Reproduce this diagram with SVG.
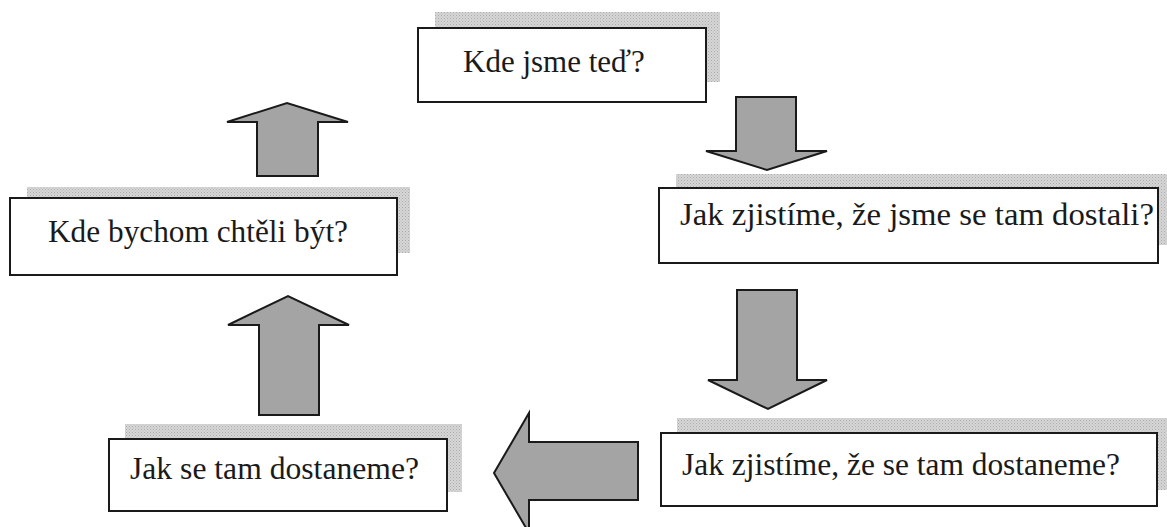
<svg xmlns="http://www.w3.org/2000/svg" width="1167" height="527" viewBox="0 0 1167 527">
<defs>
<pattern id="dots" width="3" height="3" patternUnits="userSpaceOnUse">
<rect width="3" height="3" fill="#d6d6d6"/>
<rect width="1" height="1" fill="#acacac"/>
<rect x="1.5" y="1.5" width="1" height="1" fill="#b8b8b8"/>
</pattern>
<style>
.shadow{fill:url(#dots);stroke:none}
.box{fill:#ffffff;stroke:#1a1a1a;stroke-width:2}
.lbl{font-family:'Liberation Serif','Times New Roman',Tinos,'DejaVu Serif',serif;font-size:31px;fill:#1a1a1a}
.arrow{fill:#a4a4a4;stroke:#1a1a1a;stroke-width:2;stroke-linejoin:miter}
</style>
</defs>
<rect width="1167" height="527" fill="#ffffff"/>
<g id="node-kde-jsme-ted">
<rect class="shadow" x="435" y="12" width="285" height="70"/>
<rect class="box" x="418" y="28" width="288" height="74"/>
<text class="lbl" x="463" y="72">Kde jsme teď?</text>
</g>
<g id="node-kde-bychom">
<rect class="shadow" x="27" y="187" width="383" height="66"/>
<rect class="box" x="10" y="198" width="387" height="77"/>
<text class="lbl" x="48" y="242" textLength="300" lengthAdjust="spacingAndGlyphs">Kde bychom chtěli být?</text>
</g>
<g id="node-jak-zjistime-dostali">
<rect class="shadow" x="676" y="174" width="500" height="71"/>
<rect class="box" x="659" y="188" width="499" height="75"/>
<text class="lbl" x="680" y="225" textLength="474" lengthAdjust="spacingAndGlyphs">Jak zjistíme, že jsme se tam dostali?</text>
</g>
<g id="node-jak-zjistime-dostaneme">
<rect class="shadow" x="677" y="418" width="500" height="72"/>
<rect class="box" x="661" y="433" width="496" height="73"/>
<text class="lbl" x="682" y="475" textLength="438" lengthAdjust="spacingAndGlyphs">Jak zjistíme, že se tam dostaneme?</text>
</g>
<g id="node-jak-se-tam">
<rect class="shadow" x="125" y="424" width="337" height="68"/>
<rect class="box" x="109" y="439" width="338" height="72"/>
<text class="lbl" x="130" y="479" textLength="289" lengthAdjust="spacingAndGlyphs">Jak se tam dostaneme?</text>
</g>
<g id="connectors">
<polygon class="arrow" points="736,97 796,97 796,151 827,151 767,170 706,151 736,151"/>
<polygon class="arrow" points="737,290 797,290 797,380 827,380 768,409 708,380 737,380"/>
<polygon class="arrow" points="638,442 638,500 529,500 529,533 494,473 529,413 529,442"/>
<polygon class="arrow" points="259,415 319,415 319,325 349,325 288,296 228,325 259,325"/>
<polygon class="arrow" points="257,176 318,176 318,122 348,122 287,103 227,122 257,122"/>
</g>
</svg>
